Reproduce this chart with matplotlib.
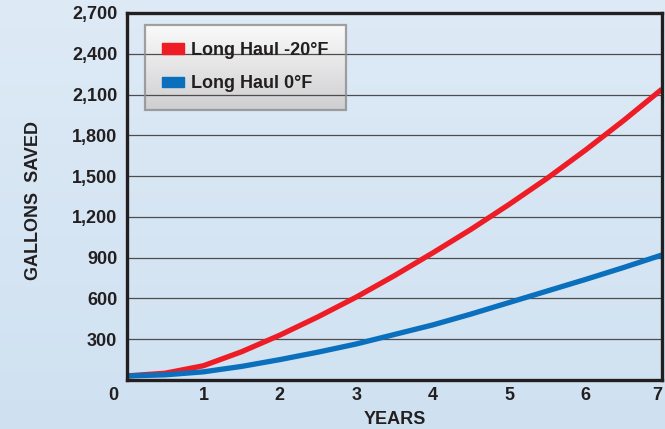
import numpy as np
import matplotlib
matplotlib.use('Agg')
import matplotlib.pyplot as plt
from matplotlib.patches import Rectangle

plt.rcParams['font.family'] = ['Liberation Sans', 'DejaVu Sans']
plt.rcParams['font.weight'] = 'bold'

# values
years = [0, 0.5, 1, 1.5, 2, 2.5, 3, 3.5, 4, 4.5, 5, 5.5, 6, 6.5, 7]
minus20 = [30, 50, 105, 208, 330, 465, 610, 768, 935, 1108, 1292, 1485, 1692, 1910, 2140]
zero_f = [30, 38, 60, 100, 150, 205, 265, 335, 405, 485, 570, 655, 740, 828, 920]
series_labels = ['Long Haul -20\u00b0F', 'Long Haul 0\u00b0F']
y_ticks = [300, 600, 900, 1200, 1500, 1800, 2100, 2400, 2700]
x_ticks = [1, 2, 3, 4, 5, 6, 7]

RED = '#ee1c25'
BLUE = '#0a6fbd'
INK = '#231f20'
FS = 13

W, H = 665, 429
fig = plt.figure(figsize=(W / 100, H / 100), dpi=100)

# background gradient
bg = fig.add_axes([0, 0, 1, 1], zorder=-10)
grad = np.linspace(0, 1, 256).reshape(-1, 1)
top = np.array([0xde, 0xea, 0xf6]) / 255
bot = np.array([0xcf, 0xe1, 0xf1]) / 255
img = top[None, None, :] * (1 - grad[:, :, None]) + bot[None, None, :] * grad[:, :, None]
bg.imshow(img, aspect='auto', extent=[0, 1, 0, 1])
bg.axis('off')

ax = fig.add_axes([127 / W, 1 - 380 / H, (662 - 127) / W, (380 - 13) / H])
ax.set_facecolor('none')

ax.plot(years, minus20, color=RED, lw=3.8, solid_capstyle='butt', zorder=3)
ax.plot(years, zero_f, color=BLUE, lw=3.8, solid_capstyle='butt', zorder=4)

ax.set_xlim(0, 7)
ax.set_ylim(0, 2700)
ax.set_yticks(y_ticks)
ax.set_yticklabels(['{:,}'.format(v) for v in y_ticks])
ax.set_xticks(x_ticks)
ax.set_xticklabels([str(v) for v in x_ticks])
ax.tick_params(length=0, labelsize=FS, colors=INK)
ax.tick_params(axis='y', pad=7)
ax.tick_params(axis='x', pad=5)
for lab in ax.get_xticklabels() + ax.get_yticklabels():
    lab.set_fontweight('bold')
ax.get_xticklabels()[-1].set_horizontalalignment('right')
ax.annotate('0', xy=(0, 0), xycoords='axes fraction', xytext=(-14, -7),
            textcoords='offset pixels', ha='center', va='top', fontsize=FS,
            fontweight='bold', color=INK, annotation_clip=False)

ax.grid(axis='y', color='#4d4d4d', lw=0.9)
ax.set_axisbelow(True)
for s in ax.spines.values():
    s.set_linewidth(2.4)
    s.set_color(INK)
    s.set_zorder(5)

ax.set_xlabel('YEARS', fontsize=FS, fontweight='bold', color=INK, labelpad=5)
fig.text(34 / W, 1 - 200 / H, 'GALLONS  SAVED', rotation=90, ha='center',
         va='center', fontsize=FS, fontweight='bold', color=INK)

handles = [Rectangle((0, 0), 1, 1, color=RED), Rectangle((0, 0), 1, 1, color=BLUE)]
leg = ax.legend(handles, series_labels, loc='upper left',
                bbox_to_anchor=(145 / W, 1 - 25 / H), bbox_transform=fig.transFigure,
                borderaxespad=0, fontsize=FS, frameon=True, fancybox=False,
                handlelength=1.2, handleheight=0.55, handletextpad=0.4,
                labelspacing=0.9, borderpad=0.95)
for t in leg.get_texts():
    t.set_fontweight('bold')
    t.set_color(INK)
frame = leg.get_frame()
frame.set_facecolor('none')
frame.set_edgecolor('#8c8c8c')
frame.set_linewidth(1.6)
leg.set_zorder(10)

# gradient fill behind the legend box
fig.canvas.draw()
bb = leg.get_window_extent().transformed(fig.transFigure.inverted())
lax = fig.add_axes([bb.x0, bb.y0, bb.width, bb.height], zorder=1)
lgrad = np.linspace(0, 1, 128).reshape(-1, 1)
ltop = np.array([0xfa, 0xfa, 0xfa]) / 255
lbot = np.array([0xcf, 0xcf, 0xd1]) / 255
limg = ltop[None, None, :] * (1 - lgrad[:, :, None]) + lbot[None, None, :] * lgrad[:, :, None]
lax.imshow(limg, aspect='auto', extent=[0, 1, 0, 1])
lax.axis('off')
ax.set_zorder(2)

fig.savefig('out.png', dpi=100)
